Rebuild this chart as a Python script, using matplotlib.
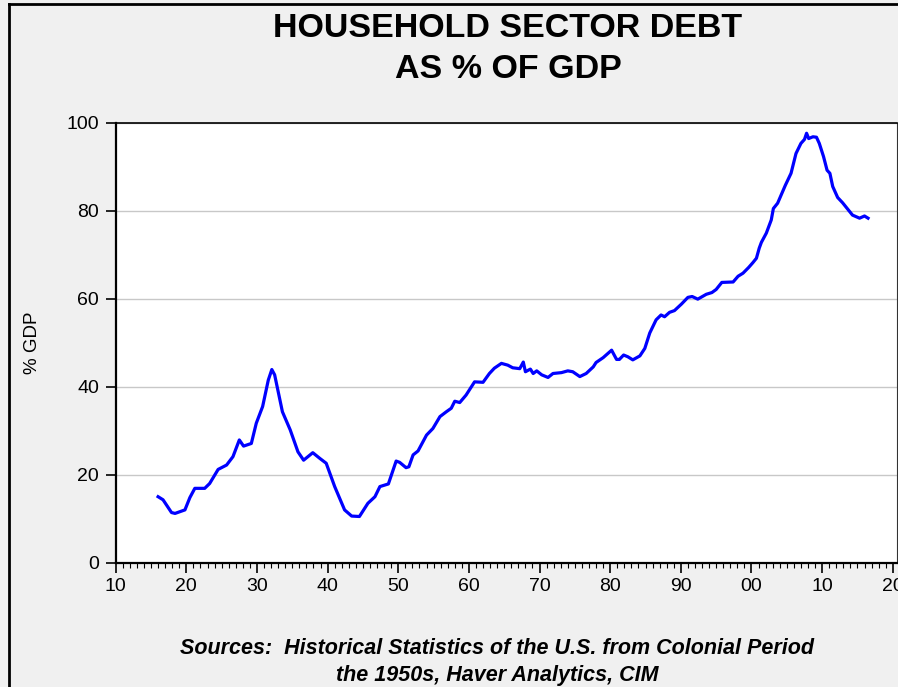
import numpy as np
import matplotlib
matplotlib.use("Agg")
from matplotlib import pyplot as plt
from matplotlib.lines import Line2D
from matplotlib.ticker import MultipleLocator, FuncFormatter

# household debt as % of GDP
years = [1916.0, 1916.7, 1917.9, 1918.4, 1919.1, 1919.8, 1920.5, 1921.2, 1922.6, 1923.3,
         1924.5, 1925.7, 1926.6, 1927.5, 1928.1, 1929.2, 1929.9, 1930.8, 1931.6, 1932.1,
         1932.5, 1933.6, 1934.7, 1935.8, 1936.6, 1937.9, 1938.9, 1939.8, 1941.0, 1942.4,
         1943.4, 1944.5, 1945.7, 1946.7, 1947.4, 1948.6, 1949.7, 1950.2, 1951.1, 1951.5,
         1952.1, 1952.8, 1954.0, 1954.9, 1955.9, 1956.8, 1957.5, 1958.0, 1958.7, 1959.6,
         1960.8, 1962.0, 1962.9, 1963.6, 1964.6, 1965.5, 1966.2, 1967.2, 1967.7, 1968.0,
         1968.7, 1969.1, 1969.6, 1970.3, 1971.2, 1971.9, 1973.1, 1974.0, 1974.7, 1975.7,
         1976.6, 1977.6, 1978.0, 1979.0, 1980.2, 1980.9, 1981.3, 1981.9, 1982.5, 1983.2,
         1984.2, 1984.9, 1985.6, 1986.5, 1987.2, 1987.7, 1988.4, 1989.1, 1990.1, 1991.0,
         1991.6, 1992.4, 1993.6, 1994.4, 1995.0, 1995.8, 1997.4, 1998.1, 1998.8, 1999.6,
         2000.2, 2000.7, 2001.1, 2001.4, 2002.1, 2002.8, 2003.1, 2003.7, 2004.4, 2004.8,
         2005.6, 2006.3, 2007.0, 2007.5, 2007.8, 2008.1, 2008.7, 2009.2, 2009.6, 2010.2,
         2010.7, 2011.1, 2011.5, 2012.2, 2012.9, 2013.6, 2014.3, 2015.3, 2016.0, 2016.5]
debtPct = [15.0, 14.3, 11.4, 11.2, 11.6, 12.0, 14.8, 16.9, 16.9, 18.0,
           21.2, 22.2, 24.1, 27.9, 26.5, 27.1, 31.7, 35.5, 41.5, 43.9,
           42.7, 34.3, 30.2, 25.2, 23.3, 25.0, 23.7, 22.6, 17.3, 12.0,
           10.6, 10.5, 13.5, 15.0, 17.3, 17.9, 23.1, 22.8, 21.6, 21.8,
           24.5, 25.4, 29.0, 30.5, 33.2, 34.3, 35.1, 36.7, 36.4, 38.1,
           41.1, 41.0, 43.0, 44.2, 45.3, 44.9, 44.3, 44.1, 45.6, 43.4,
           44.0, 43.0, 43.6, 42.7, 42.1, 43.0, 43.2, 43.6, 43.4, 42.3,
           43.0, 44.5, 45.5, 46.6, 48.3, 46.2, 46.2, 47.2, 46.8, 46.1,
           47.0, 48.7, 52.2, 55.2, 56.3, 55.9, 56.9, 57.3, 58.8, 60.3,
           60.5, 59.9, 61.0, 61.4, 62.1, 63.7, 63.8, 65.1, 65.8, 67.1,
           68.2, 69.2, 71.5, 72.8, 74.9, 77.9, 80.5, 81.7, 84.3, 85.8,
           88.5, 93.0, 95.3, 96.2, 97.6, 96.4, 96.8, 96.7, 95.3, 92.3,
           89.2, 88.5, 85.5, 83.0, 81.8, 80.4, 79.0, 78.3, 78.8, 78.3]

titleText  = "HOUSEHOLD SECTOR DEBT\nAS % OF GDP"
sourceText = "Sources:  Historical Statistics of the U.S. from Colonial Period\nthe 1950s, Haver Analytics, CIM"

plt.rcParams['font.family'] = ['Liberation Sans', 'DejaVu Sans']

fig = plt.figure(figsize=(8.98, 6.87), dpi=100, facecolor='#f0f0f0')
ax = fig.add_axes([115.7/898, 1-562.7/687, (897-115.7)/898, (562.7-122.7)/687])
ax.set_facecolor('white')

ax.plot(years, debtPct, color='#0000ff', linewidth=2.3, solid_joinstyle='round')

ax.set_xlim(1910, 2020.6)
ax.set_ylim(0, 100)
ax.xaxis.set_major_locator(MultipleLocator(10))
ax.xaxis.set_minor_locator(MultipleLocator(1))
ax.xaxis.set_major_formatter(FuncFormatter(lambda v, p: "%02d" % (int(round(v)) % 100)))
ax.yaxis.set_major_locator(MultipleLocator(20))

ax.grid(axis='y', color='#c8c8c8', linewidth=1.0)
ax.set_axisbelow(True)

ax.tick_params(axis='y', which='major', direction='out', length=7, width=1.2,
               labelsize=14, pad=5)
ax.tick_params(axis='x', which='major', direction='out', length=7, width=1.2,
               labelsize=14, pad=4)
ax.tick_params(axis='x', which='minor', direction='out', length=3.5, width=0.8)

for side in ['left', 'bottom']:
    ax.spines[side].set_linewidth(1.6)
    ax.spines[side].set_color('black')
ax.spines['top'].set_linewidth(1.2)
ax.spines['right'].set_linewidth(0.8)
ax.spines['right'].set_color('#333333')

ax.set_ylabel("% GDP", fontsize=13.5, labelpad=18)

fig.text(508/898, 1-49/687, titleText, ha='center', va='center',
         fontsize=24.5, fontweight='bold', linespacing=1.42)
fig.text(497/898, 1-662/687, sourceText, ha='center', va='center',
         fontsize=15.5, fontweight='bold', style='italic', linespacing=1.4)

# frame round the whole chart (cut off right and bottom)
fig.add_artist(Line2D([9/898, 1], [1-4/687, 1-4/687], color='black', linewidth=2,
                      transform=fig.transFigure))
fig.add_artist(Line2D([9/898, 9/898], [0, 1-4/687], color='black', linewidth=2,
                      transform=fig.transFigure))

fig.savefig("out.png", dpi=100, facecolor=fig.get_facecolor())
